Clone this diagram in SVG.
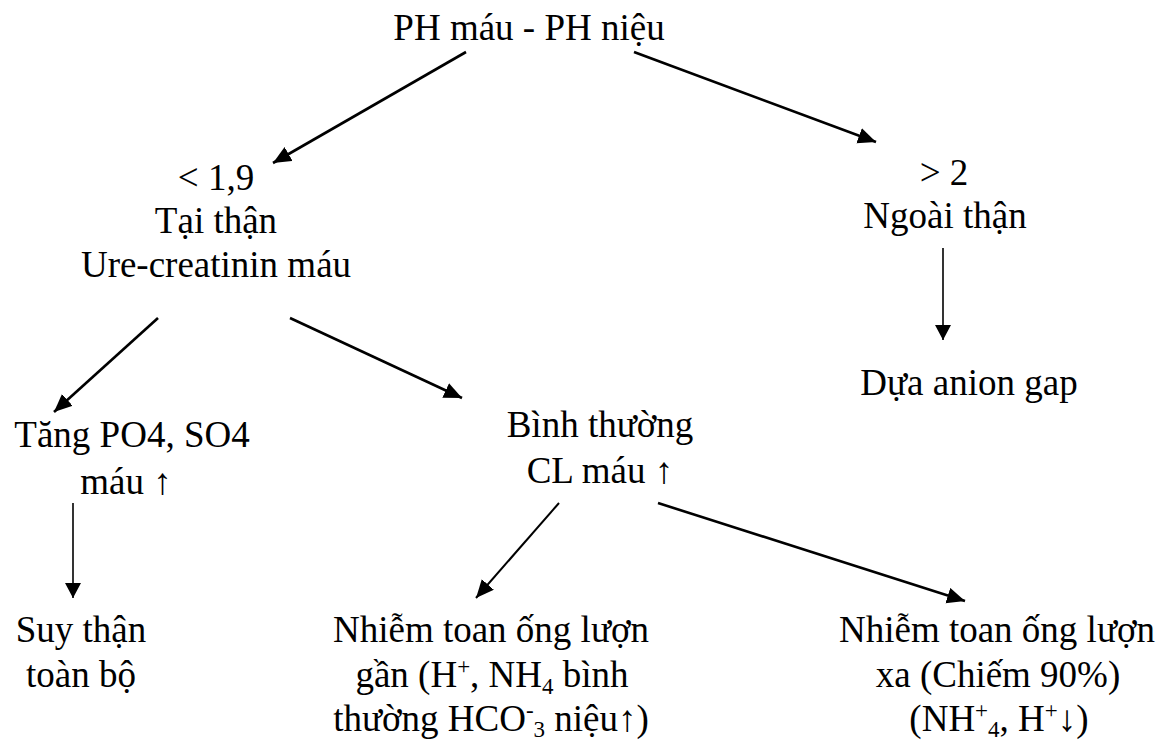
<svg xmlns="http://www.w3.org/2000/svg" width="1156" height="742" viewBox="0 0 1156 742">
<style>
text{font-family:"Liberation Serif","Times New Roman","DejaVu Serif",serif;font-size:37px;fill:#000;text-anchor:middle}
.c{stroke:#000;stroke-width:2.6;fill:none}
.v{stroke:#000;stroke-width:1.6;fill:none}
.m{stroke:#000;stroke-width:2;fill:none}
.s{font-size:23px}
</style>
<defs>
<marker id="ah" markerUnits="userSpaceOnUse" markerWidth="20" markerHeight="18" refX="18" refY="8" orient="auto">
<path d="M0,0 L18,8 L0,16 z" fill="#000"/>
</marker>
<marker id="av" markerUnits="userSpaceOnUse" markerWidth="18" markerHeight="18" refX="15" refY="8" orient="auto">
<path d="M0,0 L15,8 L0,16 z" fill="#000"/>
</marker>
</defs>
<rect width="1156" height="742" fill="#fff"/>
<g id="connectors">
<line class="c" x1="466" y1="52" x2="273" y2="163" marker-end="url(#ah)"/>
<line class="c" x1="634" y1="52" x2="876" y2="142" marker-end="url(#ah)"/>
<line class="v" x1="943" y1="248" x2="943" y2="340" marker-end="url(#av)"/>
<line class="c" x1="158" y1="318" x2="54" y2="412" marker-end="url(#ah)"/>
<line class="c" x1="290" y1="318" x2="462" y2="398" marker-end="url(#ah)"/>
<line class="v" x1="73" y1="503" x2="73" y2="598" marker-end="url(#av)"/>
<line class="m" x1="559" y1="503" x2="476" y2="598" marker-end="url(#ah)"/>
<line class="c" x1="658" y1="503" x2="965" y2="601" marker-end="url(#ah)"/>
</g>
<g id="n-root"><text x="529" y="40">PH máu - PH niệu</text></g>
<g id="n-tai-than">
<text x="216" y="190">&lt; 1,9</text>
<text x="216" y="233">Tại thận</text>
<text x="216" y="277">Ure-creatinin máu</text>
</g>
<g id="n-ngoai-than">
<text x="944" y="185">&gt; 2</text>
<text x="945" y="228">Ngoài thận</text>
</g>
<g id="n-anion"><text x="969" y="395">Dựa anion gap</text></g>
<g id="n-tang">
<text x="132" y="447">Tăng PO4, SO4</text>
<text x="126" y="494">máu ↑</text>
</g>
<g id="n-binh">
<text x="600" y="437">Bình thường</text>
<text x="600" y="483">CL máu ↑</text>
</g>
<g id="n-suy">
<text x="81" y="642">Suy thận</text>
<text x="81" y="687">toàn bộ</text>
</g>
<g id="n-gan">
<text x="491" y="642">Nhiễm toan ống lượn</text>
<text x="492" y="687">gần (H<tspan class="s" dy="-13">+</tspan><tspan dy="13">, NH</tspan><tspan class="s" dy="7">4</tspan><tspan dy="-7"> bình</tspan></text>
<text x="491" y="731">thường HCO<tspan class="s" dy="-13">-</tspan><tspan class="s" dy="19">3</tspan><tspan dy="-6"> niệu↑)</tspan></text>
</g>
<g id="n-xa">
<text x="997" y="642">Nhiễm toan ống lượn</text>
<text x="998" y="687">xa (Chiếm 90%)</text>
<text x="999" y="731">(NH<tspan class="s" dy="-13">+</tspan><tspan class="s" dy="19">4</tspan><tspan dy="-6">, H</tspan><tspan class="s" dy="-13">+</tspan><tspan dy="13">↓)</tspan></text>
</g>
</svg>
